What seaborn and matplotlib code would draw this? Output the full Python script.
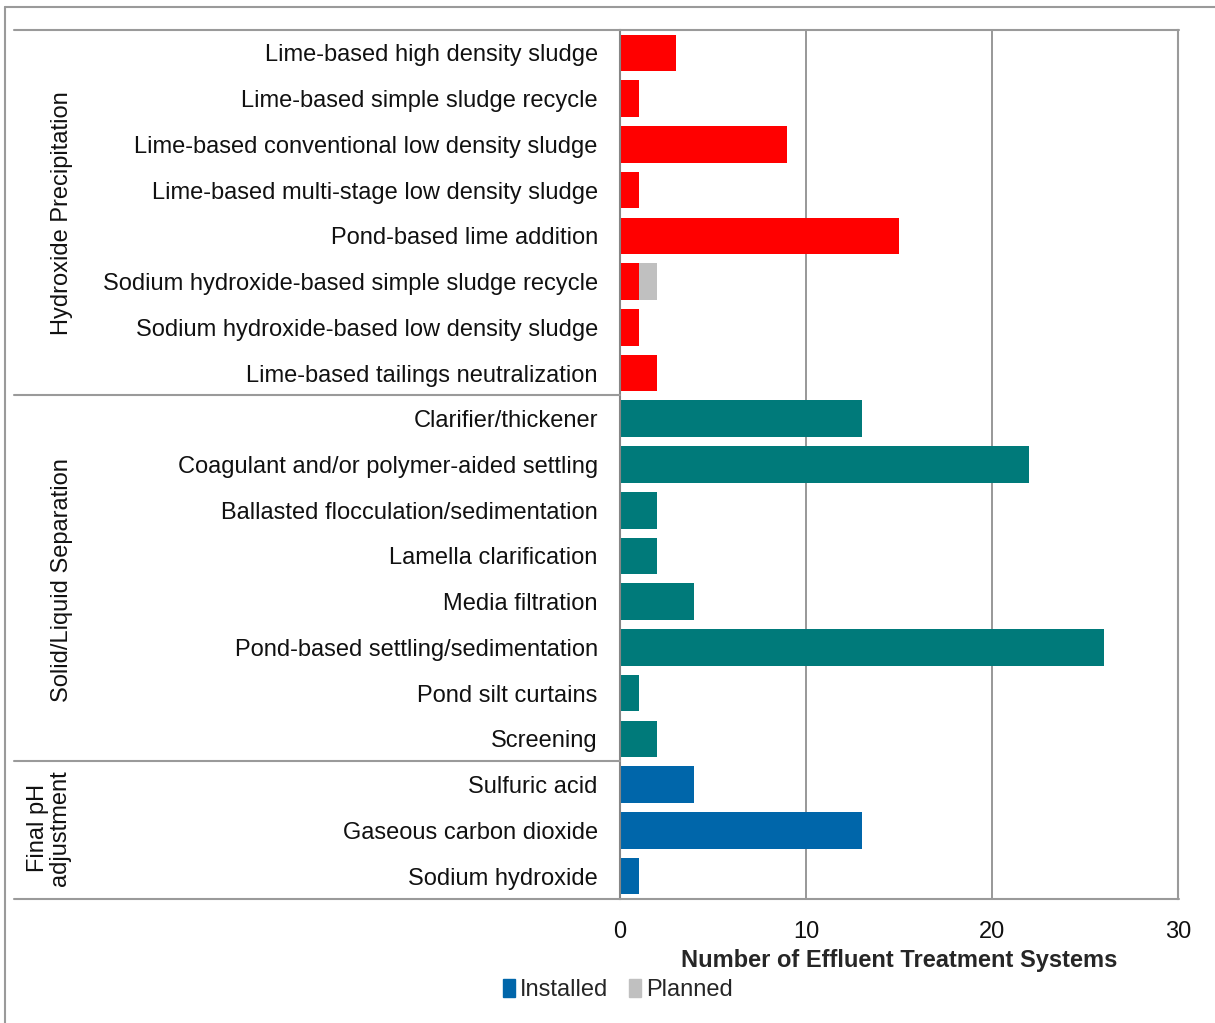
import pandas as pd
import matplotlib.pyplot as plt
import seaborn as sns
from matplotlib.patches import Patch
from matplotlib.lines import Line2D

# data
categories = [
    "Lime-based high density sludge",
    "Lime-based simple sludge recycle",
    "Lime-based conventional low density sludge",
    "Lime-based multi-stage low density sludge",
    "Pond-based lime addition",
    "Sodium hydroxide-based simple sludge recycle",
    "Sodium hydroxide-based low density sludge",
    "Lime-based tailings neutralization",
    "Clarifier/thickener",
    "Coagulant and/or polymer-aided settling",
    "Ballasted flocculation/sedimentation",
    "Lamella clarification",
    "Media filtration",
    "Pond-based settling/sedimentation",
    "Pond silt curtains",
    "Screening",
    "Sulfuric acid",
    "Gaseous carbon dioxide",
    "Sodium hydroxide",
]
groups = (["Hydroxide Precipitation"] * 8 + ["Solid/Liquid Separation"] * 8
          + ["Final pH\nadjustment"] * 3)
installed = [3, 1, 9, 1, 15, 1, 1, 2, 13, 22, 2, 2, 4, 26, 1, 2, 4, 13, 1]
planned = [0, 0, 0, 0, 0, 1, 0, 0, 0, 0, 0, 0, 0, 0, 0, 0, 0, 0, 0]

group_colors = {
    "Hydroxide Precipitation": "#FF0000",
    "Solid/Liquid Separation": "#007A7A",
    "Final pH\nadjustment": "#0066AA",
}

df = pd.DataFrame({"cat": categories, "group": groups,
                   "installed": installed, "planned": planned})
df["total"] = df["installed"] + df["planned"]

sns.set_style("white")
plt.rcParams["font.family"] = ["Liberation Sans", "DejaVu Sans"]
FS = 17

fig = plt.figure(figsize=(12.15, 10.23), dpi=100)
L, R, T, B = 620 / 1215, 1178 / 1215, 1 - 30 / 1023, 1 - 899 / 1023
ax = fig.add_axes([L, B, R - L, T - B])

# total first (grey = planned part), installed drawn over it
sns.barplot(data=df, x="total", y="cat", color="#C0C0C0", orient="h",
            width=0.8, saturation=1, ax=ax)
sns.barplot(data=df, x="installed", y="cat", hue="group", palette=group_colors,
            dodge=False, legend=False, orient="h", width=0.8, saturation=1,
            ax=ax)
for p in ax.patches:
    p.set_edgecolor("none")

ax.set_xlim(0, 30)
ax.set_ylim(len(categories) - 0.5, -0.5)
ax.set_xticks([0, 10, 20, 30])
ax.xaxis.grid(True, color="#868686", linewidth=1.2)
ax.set_axisbelow(True)
ax.tick_params(axis="both", length=0, labelsize=FS, colors="#111111")
ax.tick_params(axis="y", pad=16)
ax.tick_params(axis="x", pad=16)
ax.set_ylabel("")
ax.set_xlabel("Number of Effluent Treatment Systems", fontsize=FS,
              fontweight="bold", labelpad=4)
for s in ["top", "bottom"]:
    ax.spines[s].set_visible(False)
ax.spines["left"].set_color("#868686")
ax.spines["left"].set_linewidth(1.5)
ax.spines["right"].set_color("#9a9a9a")
ax.spines["right"].set_linewidth(1.5)

# frame lines spanning the label area, and group separators
def fx(px):
    return px / 1215

def fy(py):
    return 1 - py / 1023

line_kw = dict(color="#9a9a9a", linewidth=1.5, transform=fig.transFigure)
fig.add_artist(Line2D([fx(14), fx(1179)], [fy(30), fy(30)], **line_kw))
fig.add_artist(Line2D([fx(14), fx(1179)], [fy(899), fy(899)], **line_kw))
for yy in [395, 761]:
    fig.add_artist(Line2D([fx(14), fx(620)], [fy(yy), fy(yy)], **line_kw))

# outer border
fig.add_artist(Line2D([fx(5), fx(1215)], [fy(7), fy(7)], **line_kw))
fig.add_artist(Line2D([fx(5), fx(5)], [fy(7), fy(1023)], **line_kw))

# group labels
fig.text(fx(62), fy(213), "Hydroxide Precipitation", rotation=90,
         ha="center", va="center", fontsize=FS, color="#111111")
fig.text(fx(62), fy(580), "Solid/Liquid Separation", rotation=90,
         ha="center", va="center", fontsize=FS, color="#111111")
fig.text(fx(49), fy(828), "Final pH\nadjustment", rotation=90,
         ha="center", va="center", fontsize=FS, color="#111111",
         linespacing=0.95)

handles = [Patch(color="#0066AA", label="Installed"),
           Patch(color="#C0C0C0", label="Planned")]
fig.legend(handles=handles, loc="center", bbox_to_anchor=(fx(618), fy(990)),
           ncol=2, frameon=False, fontsize=FS, handlelength=0.5,
           handleheight=0.8, handletextpad=0.2, columnspacing=0.9)

fig.savefig("out.png", dpi=100)
